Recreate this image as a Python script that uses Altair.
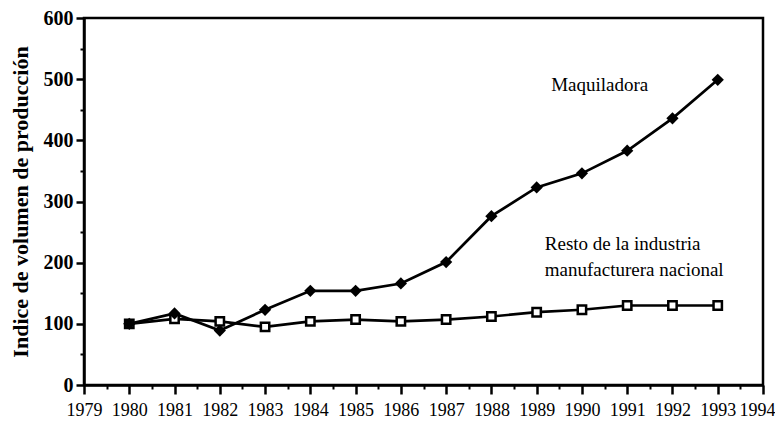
import altair as alt
import pandas as pd

years = [1980, 1981, 1982, 1983, 1984, 1985, 1986, 1987, 1988, 1989, 1990, 1991, 1992, 1993]
maquiladora = [100, 117, 89, 123, 154, 154, 166, 201, 276, 323, 346, 383, 436, 499]
resto = [100, 108, 104, 95, 104, 107, 104, 107, 112, 119, 123, 130, 130, 130]

x_ticks = list(range(1979, 1995))
x_minor = [y + 0.5 for y in range(1979, 1994)]
y_ticks = [0, 100, 200, 300, 400, 500, 600]
y_minor = [50, 150, 250, 350, 450, 550]

labels_text = ["Maquiladora", "Resto de la industria", "manufacturera nacional"]
labels_x = [1989.32, 1989.18, 1989.18]
labels_y = [490, 230, 188]

FONT = "Liberation Serif"

df_m = pd.DataFrame({"year": years, "value": maquiladora})
df_r = pd.DataFrame({"year": years, "value": resto})
df_lab = pd.DataFrame({"text": labels_text, "x": labels_x, "y": labels_y})

xscale = alt.Scale(domain=[1979, 1994], nice=False, zero=False)
yscale = alt.Scale(domain=[0, 600], nice=False)

x_axis = alt.Axis(values=x_ticks, format="d", title=None, tickSize=9, tickWidth=2.5, orient="bottom",
                  labelFont=FONT, labelFontSize=18, labelColor="black", labelPadding=7,
                  labelOffset=alt.condition("datum.value == 1994", alt.value(-6), alt.value(0)),
                  domainWidth=2.5, domainColor="black", tickColor="black", grid=False,
                  labelFlush=False, labelOverlap=False)
y_axis = alt.Axis(values=y_ticks, title="Indice de volumen de producción", tickSize=8, tickWidth=2.5,
                  orient="left",
                  labelFont=FONT, labelFontSize=20, labelFontWeight="bold", labelColor="black",
                  labelPadding=3, domainWidth=2.5, domainColor="black", tickColor="black", grid=False,
                  titleFont=FONT, titleFontSize=22, titleFontWeight="bold", titleColor="black",
                  titlePadding=11, labelFlush=False)

x_minor_axis = alt.Axis(values=x_minor, labels=False, title=None, tickSize=4, tickWidth=2, orient="bottom",
                        tickColor="black", domain=False, grid=False)
y_minor_axis = alt.Axis(values=y_minor, labels=False, title=None, tickSize=4, tickWidth=2, orient="left",
                        tickColor="black", domain=False, grid=False)

base_enc = dict(
    x=alt.X("year:Q", scale=xscale, axis=x_axis),
    y=alt.Y("value:Q", scale=yscale, axis=y_axis),
)

line_m = alt.Chart(df_m).mark_line(color="black", strokeWidth=2.7).encode(**base_enc)
line_r = alt.Chart(df_r).mark_line(color="black", strokeWidth=2.7).encode(**base_enc)
pts_r = alt.Chart(df_r).mark_point(shape="square", filled=False, fill="white", fillOpacity=1,
                                   color="black", strokeWidth=2.5, size=70, opacity=1).encode(**base_enc)
pts_m = alt.Chart(df_m).mark_point(shape="diamond", filled=True, color="black", size=150,
                                   opacity=1).encode(**base_enc)
text = alt.Chart(df_lab).mark_text(font=FONT, fontSize=19, color="black", align="left",
                                   baseline="middle").encode(
    x=alt.X("x:Q", scale=xscale, axis=x_axis),
    y=alt.Y("y:Q", scale=yscale, axis=y_axis),
    text="text:N",
)
main = alt.layer(line_r, line_m, pts_r, pts_m, text)

minor = alt.Chart(df_m).mark_point(opacity=0).encode(
    x=alt.X("year:Q", scale=xscale, axis=x_minor_axis),
    y=alt.Y("value:Q", scale=yscale, axis=y_minor_axis),
)

chart = alt.layer(main, minor).resolve_axis(x="independent", y="independent").properties(
    width=679, height=367,
    background="white",
    autosize=alt.AutoSizeParams(type="none"),
    padding={"left": 76, "top": 10, "right": 12, "bottom": 38},
).configure_view(stroke="black", strokeWidth=2.5)

chart.save("out.html", embed_options={"renderer": "svg", "actions": False})
